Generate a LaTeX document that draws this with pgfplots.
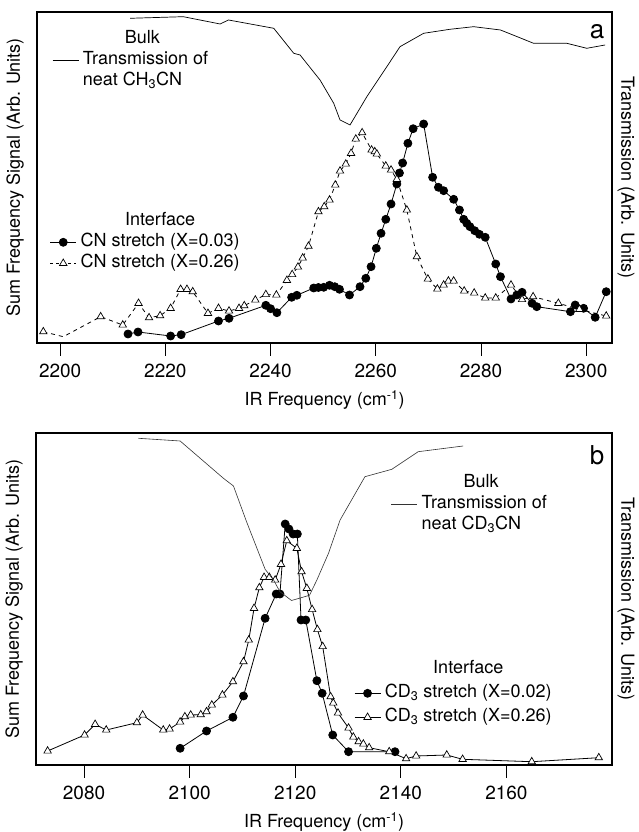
\documentclass[border=0pt]{standalone}
\usepackage{pgfplots}
\pgfplotsset{compat=1.18}
\usepackage{fontspec}
\setmainfont{TeX Gyre Heros}

\pgfplotstableread{
x y
2212.9 9
2214.8 11
2221.0 7
2223.0 8.3
2230.1 22
2232.1 24.7
2239.1 37.7
2240.0 34.3
2241.2 30.3
2244.0 45.7
2245.0 47.7
2248.2 55.0
2249.1 55.5
2250.1 55.7
2251.2 57.7
2252.2 56.3
2253.1 53.7
2255.0 48
2257.0 56.3
2258.1 64.7
2259.1 76.3
2260.1 94.7
2261.0 109.7
2261.9 123.7
2262.9 139
2264.0 159
2264.5 170
2265.1 180
2266.1 199.7
2267.1 214.3
2269.1 219
2270.8 165.7
2271.9 155.7
2272.9 152.3
2274.8 143.7
2275.9 133
2276.7 123.7
2277.3 119.7
2277.9 116.3
2278.8 112.3
2279.7 108.7
2280.8 105.7
2282.8 79
2283.7 66.3
2285.7 44
2286.8 48
2287.8 50.7
2289.7 39.7
2290.6 36.3
2297.0 31.3
2297.9 38
2299.5 34.7
2301.7 25.7
2303.8 51.3
}\circA

\pgfplotstableread{
x y
2196.8 11.3
2200.6 6.3
2207.7 26.3
2211.9 18
2214.9 39.7
2216.9 25.3
2219.0 27.3
2221.0 34.7
2222.9 53.7
2224.1 53.7
2225.2 51.3
2228.1 29.7
2230.1 34.7
2232.1 32
2234.0 34.7
2235.0 37.3
2237.1 43
2239.1 48.5
2241.1 48
2243.1 62.7
2244.1 68.5
2245.2 76
2246.1 85
2247.2 96.8
2249.1 131.3
2250.2 136.3
2251.2 143
2252.3 158
2253.2 172
2254.3 179
2255.3 189.7
2256.2 204
2257.4 210.3
2259.2 193
2259.8 191.3
2260.2 189
2261.9 177
2262.9 173
2264.0 163.7
2265.9 133
2267.8 86.3
2269.9 64
2271.7 54
2272.9 58
2273.8 62
2274.8 62
2276.8 52
2278.7 50
2280.8 45
2282.8 45
2285.7 58
2287.8 43.5
2289.9 46.3
2294.7 39.7
2298.7 33.7
2303.8 27
}\triA

\pgfplotstableread{
x y
2196.8 11.3
2207.7 26.3
2211.9 18
2214.9 39.7
2216.9 25.3
2219.0 27.3
2221.0 34.7
2222.9 53.7
2224.1 53.7
2225.2 51.3
2228.1 29.7
2230.1 34.7
2232.1 32
2234.0 34.7
2235.0 37.3
2237.1 43
2239.1 48.5
2241.1 48
2243.1 62.7
2244.1 68.5
2245.2 76
2246.1 85
2247.2 96.8
2249.1 131.3
2250.2 136.3
2251.2 143
2252.3 158
2253.2 172
2254.3 179
2255.3 189.7
2256.2 204
2257.4 210.3
2259.2 193
2259.8 191.3
2260.2 189
2261.9 177
2262.9 173
2264.0 163.7
2265.9 133
2267.8 86.3
2269.9 64
2271.7 54
2272.9 58
2273.8 62
2274.8 62
2276.8 52
2278.7 50
2280.8 45
2282.8 45
2285.7 58
2287.8 43.5
2289.9 46.3
2294.7 39.7
2298.7 33.7
2303.8 27
}\triAmarks

\pgfplotstableread{
x y
2213.3 324.7
2223.4 326.3
2230.4 319
2232.0 323
2240.6 314.7
2244.4 289.7
2245.6 288
2249.4 263
2252.0 239.7
2253.2 223
2255.1 218
2258.3 246.3
2262.1 276.3
2264.6 296.3
2269.1 309.7
2274.1 313.7
2278.6 316.3
2283.7 313
2290.0 299.7
2296.3 299.7
2300.1 294.7
2303.6 298
}\transA

\pgfplotstableread{
x y
2098.2 16.7
2103.2 34
2108.2 47.7
2110.2 69
2114.3 146.7
2116.4 171
2117.1 171
2118.1 241
2118.8 236
2119.6 231
2120.4 231
2121.1 145
2122.0 145
2124.1 84.3
2125.1 71.7
2127.1 30
2130.1 13.3
2138.9 13.3
}\circB

\pgfplotstableread{
x y
2073.1 14
2080.1 30
2082.1 40.7
2084.2 35
2090.0 42.3
2091.1 50
2095.0 35
2096.2 36
2098.2 43
2099.1 48.3
2100.2 50
2102.1 50.3
2103.2 53.3
2104.2 60
2106.2 70
2108.2 83.3
2110.2 103.3
2111.2 125
2112.2 156.7
2113.2 177.3
2114.1 187.7
2115.1 187.7
2116.2 185
2117.3 200.7
2118.4 224.3
2120.3 216.7
2121.2 193.3
2122.2 176.7
2123.2 155.5
2124.2 135.5
2125.2 118.5
2126.7 68.3
2127.2 62
2128.1 52
2130.1 37
2131.0 28
2132.0 23.3
2132.9 21
2134.0 17.3
2137.8 13.3
2141.0 6.3
2142.9 9
2148.7 10
2151.7 5.7
2164.8 3.3
2177.5 7.3
}\triB

\pgfplotstableread{
x y
2090.3 326.7
2098.2 324
2106.4 286.7
2108.3 279
2110.8 243
2114.3 195.7
2115.9 185
2117.1 173.3
2119.3 164.5
2122.7 169.7
2124.1 185
2126.3 211.7
2128.5 245
2133.2 288.3
2138.3 295.7
2143.3 313.3
2151.8 319
}\transB

\pgfplotsset{
  base/.style={
    scale only axis, ymin=0, ytick=\empty,
    axis line style={line width=1.1pt},
    tick align=outside, xtick pos=bottom,
    major tick length=13pt,
    tick style={line width=0.9pt, black},
    /pgf/number format/assume math mode=true,
    /pgf/number format/1000 sep={},
    ticklabel style={font=\fontsize{19}{21}\selectfont},
    xticklabel style={yshift=-2pt},
  },
  ghost/.style={scale only axis, ymin=0, hide axis},
  lgd/.style={
    legend style={draw=none, fill=none, inner sep=0pt, row sep=0pt, column sep=3pt,
      nodes={inner sep=1pt, text height=14pt, text depth=5pt, font=\fontsize{18}{20}\selectfont}},
  },
  longimg/.style={legend image code/.code={\draw[mark repeat=2,mark phase=2] plot coordinates {(0pt,0pt) (13pt,0pt) (26pt,0pt)};}},
  circ/.style={black, line width=0.8pt, mark=*, mark size=4pt, mark options={solid, fill=black}},
  tri/.style={black, line width=0.8pt, mark=triangle*, mark size=4.3pt, mark options={solid, fill=white, line width=0.7pt}},
}

\begin{document}
\fontsize{18}{21}\selectfont
\begin{tikzpicture}
\path[use as bounding box] (0pt,0pt) rectangle (639pt,832pt);

% ---------- panel a ----------
\begin{axis}[base, name=pa, at={(37pt,489pt)}, anchor=south west,
  width=575pt, height=331pt, xmin=2195.6, xmax=2304.9, ymax=331,
  xtick={2200,2220,2240,2260,2280,2300}, lgd, longimg,
  legend cell align=center,
  legend style={at={(0.022,0.40)}, anchor=north west}]
\addlegendimage{empty legend}
\addlegendentry{Interface}
\addplot[circ] table[x=x,y=y] {\circA};
\addlegendentry{CN stretch (X=0.03)}
\addplot[black, line width=0.8pt, dash pattern=on 4pt off 4pt, forget plot] table[x=x,y=y] {\triA};
\addplot[tri, only marks, forget plot] table[x=x,y=y] {\triAmarks};
\addlegendimage{tri, dash pattern=on 3pt off 3pt}
\addlegendentry{CN stretch (X=0.26)}
\end{axis}

\begin{axis}[ghost, at={(37pt,489pt)}, anchor=south west,
  width=575pt, height=331pt, xmin=2195.6, xmax=2304.9, ymax=331, lgd,
  legend cell align=left,
  legend image code/.code={\draw (0pt,0pt) -- (26pt,0pt);},
  legend style={at={(0.026,0.95)}, anchor=north west}]
\addlegendimage{empty legend}
\addlegendentry{\hspace*{42pt}Bulk}
\addplot[black, line width=0.7pt] table[x=x,y=y] {\transA};
\addlegendentry{Transmission of}
\addlegendimage{empty legend}
\addlegendentry{neat CH\textsubscript{3}CN}
\end{axis}

\node[font=\fontsize{26}{28}\selectfont] at (597pt,800pt) {a};
\node[rotate=90] at ([xshift=-22pt]pa.west) {Sum Frequency Signal (Arb. Units)};
\node[rotate=-90] at ([xshift=14pt]pa.east) {Transmission (Arb. Units)};
\node at ([yshift=-57pt]pa.south) {IR Frequency (cm\textsuperscript{-1})};

% ---------- panel b ----------
\begin{axis}[base, name=pb, at={(36pt,67pt)}, anchor=south west,
  width=576pt, height=332pt, xmin=2070.9, xmax=2180.0, ymax=332,
  xtick={2080,2100,2120,2140,2160}, lgd, longimg,
  legend cell align=center,
  legend style={at={(0.552,0.325)}, anchor=north west,
    nodes={text height=15pt, text depth=7pt}}]
\addlegendimage{empty legend}
\addlegendentry{Interface}
\addplot[circ] table[x=x,y=y] {\circB};
\addlegendentry{CD\textsubscript{3} stretch (X=0.02)}
\addplot[tri] table[x=x,y=y] {\triB};
\addlegendentry{CD\textsubscript{3} stretch (X=0.26)}
\end{axis}

\begin{axis}[ghost, at={(36pt,67pt)}, anchor=south west,
  width=576pt, height=332pt, xmin=2070.9, xmax=2180.0, ymax=332, lgd,
  legend cell align=left,
  legend image code/.code={\draw (0pt,0pt) -- (26pt,0pt);},
  legend style={at={(0.616,0.882)}, anchor=north west}]
\addlegendimage{empty legend}
\addlegendentry{\hspace*{42pt}Bulk}
\addplot[black!80, line width=0.6pt] table[x=x,y=y] {\transB};
\addlegendentry{Transmission of}
\addlegendimage{empty legend}
\addlegendentry{neat CD\textsubscript{3}CN}
\end{axis}

\node[font=\fontsize{26}{28}\selectfont] at (597pt,377pt) {b};
\node[rotate=90] at ([xshift=-22pt]pb.west) {Sum Frequency Signal (Arb. Units)};
\node[rotate=-90] at ([xshift=14pt]pb.east) {Transmission (Arb. Units)};
\node at ([yshift=-57pt]pb.south) {IR Frequency (cm\textsuperscript{-1})};
\end{tikzpicture}
\end{document}
